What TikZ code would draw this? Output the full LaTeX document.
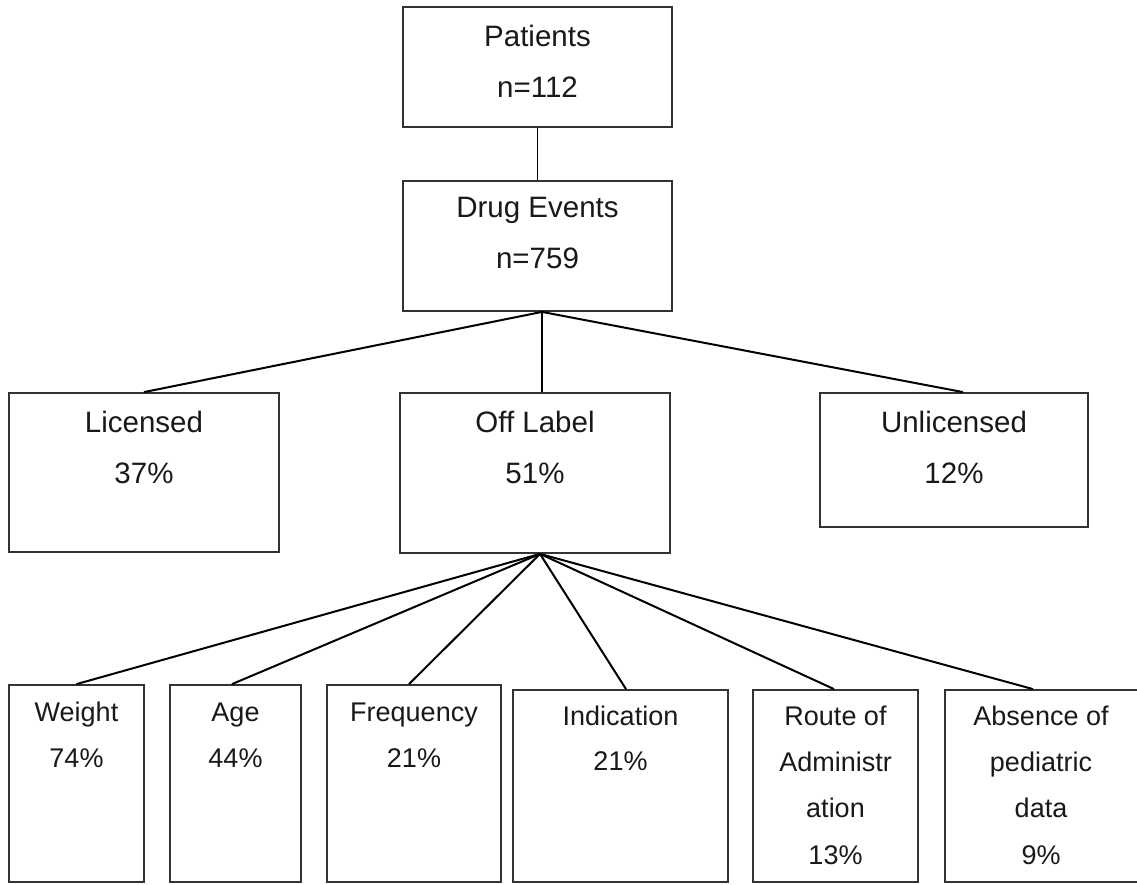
\documentclass[tikz,border=0pt]{standalone}
\usepackage{fontspec}
\setmainfont{Liberation Sans}
\begin{document}
\begin{tikzpicture}[x=1pt,y=-1pt,
  box/.style={draw=black!80, line width=1.8pt, inner sep=0pt, fill=none},
  big/.style={font=\fontsize{29.5}{36}\selectfont, anchor=base, inner sep=0pt, text=black!90},
  small/.style={font=\fontsize{27}{32}\selectfont, anchor=base, inner sep=0pt, text=black!90},
  link/.style={line width=2pt, draw=black}]
\useasboundingbox[fill=white] (0,0) rectangle (1137,884);

% top boxes
\node[box, minimum width=269pt, minimum height=120pt] (pat) at (537.5,67) {};
\node[big] (patA) at (537.5,46) {Patients};
\node[big] (patB) at (537.5,97) {n=112};

\node[box, minimum width=269pt, minimum height=130pt] (drug) at (537.5,246) {};
\node[big] (drugA) at (537.5,217) {Drug Events};
\node[big] (drugB) at (537.5,268) {n=759};

% middle boxes
\node[box, minimum width=270pt, minimum height=159pt] (lic) at (144,472.5) {};
\node[big] (licA) at (144,432) {Licensed};
\node[big] (licB) at (144,483) {37\%};

\node[box, minimum width=270pt, minimum height=160pt] (off) at (535,473) {};
\node[big] (offA) at (535,432) {Off Label};
\node[big] (offB) at (535,483) {51\%};

\node[box, minimum width=268pt, minimum height=134pt] (unl) at (954,460) {};
\node[big] (unlA) at (954,432) {Unlicensed};
\node[big] (unlB) at (954,483) {12\%};

% bottom boxes
\node[box, minimum width=135pt, minimum height=197pt] (wt) at (76.5,783.5) {};
\node[small] (wtA) at (76.5,721) {Weight};
\node[small] (wtB) at (76.5,767) {74\%};

\node[box, minimum width=131pt, minimum height=197pt] (age) at (235.5,783.5) {};
\node[small] (ageA) at (235.5,721) {Age};
\node[small] (ageB) at (235.5,767) {44\%};

\node[box, minimum width=174pt, minimum height=197pt] (freq) at (414,783.5) {};
\node[small] (freqA) at (414,721) {Frequency};
\node[small] (freqB) at (414,767) {21\%};

\node[box, minimum width=215pt, minimum height=192pt] (ind) at (620.5,786) {};
\node[small] (indA) at (620.5,725) {Indication};
\node[small] (indB) at (620.5,770) {21\%};

\node[box, minimum width=165pt, minimum height=192pt] (route) at (835.5,786) {};
\node[small] (routeA) at (835.5,725) {Route of};
\node[small] (routeB) at (835.5,771) {Administr};
\node[small] (routeC) at (835.5,817) {ation};
\node[small] (routeD) at (835.5,864) {13\%};

\node[box, minimum width=200pt, minimum height=192pt] (abs) at (1045,786) {};
\node[small] (absA) at (1041,725) {Absence of};
\node[small] (absB) at (1041,771) {pediatric};
\node[small] (absC) at (1041,817) {data};
\node[small] (absD) at (1041,864) {9\%};

% connectors
\draw[link, line width=1.5pt] (pat.south) -- (drug.north);
\coordinate (h1) at ([xshift=4.5pt]drug.south);
\draw[link] (h1) -- (lic.north);
\draw[link] (h1) -- (h1 |- off.north);
\draw[link] (h1) -- ([xshift=9pt]unl.north);

\coordinate (h2) at ([xshift=5pt]off.south);
\draw[link] (h2) -- (wt.north);
\draw[link] (h2) -- ([xshift=-3.5pt]age.north);
\draw[link] (h2) -- ([xshift=-5pt]freq.north);
\draw[link] (h2) -- ([xshift=5.5pt]ind.north);
\draw[link] (h2) -- ([xshift=-1.5pt]route.north);
\draw[link] (h2) -- ([xshift=-12pt]abs.north);
\end{tikzpicture}
\end{document}
